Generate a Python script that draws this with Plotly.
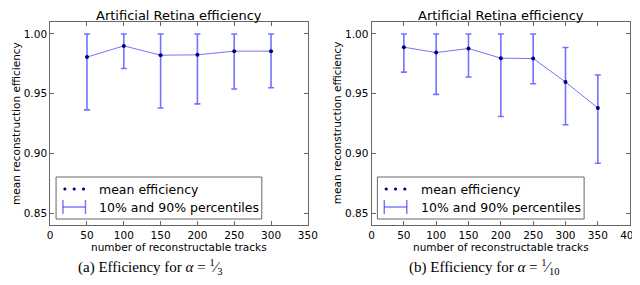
import plotly.graph_objects as go

W, H = 640, 285

# ---- data ----
x_a = [50, 100, 150, 200, 250, 300]
mean_a = [0.9806, 0.9900, 0.9822, 0.9825, 0.9856, 0.9856]
p90_a = [1.0, 1.0, 1.0, 1.0, 1.0, 1.0]
p10_a = [0.9364, 0.9711, 0.9380, 0.9414, 0.9539, 0.9550]

x_b = [50, 100, 150, 200, 250, 300, 350]
mean_b = [0.9889, 0.9844, 0.9878, 0.9797, 0.9794, 0.9597, 0.9380]
p90_b = [1.0, 1.0, 1.0, 1.0, 1.0, 0.9886, 0.9656]
p10_b = [0.9680, 0.9494, 0.9639, 0.9308, 0.9583, 0.9239, 0.8917]

title = "Artificial Retina efficiency"
xlabel = "number of reconstructable tracks"
ylabel = "mean reconstruction efficiency"
legend_labels = ["mean efficiency", "10% and 90% percentiles"]
captions = ["(a) Efficiency for <i>α</i> = <sup>1</sup>⁄<sub>3</sub>",
            "(b) Efficiency for <i>α</i> = <sup>1</sup>⁄<sub>10</sub>"]

BAR = "rgba(40,40,255,0.65)"
DOT = "#00007a"
AX = "#666"
FONT = "DejaVu Sans"


def px(x):
    return x / W


def py(y):
    return 1 - y / H


fig = go.Figure()

for i, (xs, m, hi, lo) in enumerate([(x_a, mean_a, p90_a, p10_a), (x_b, mean_b, p90_b, p10_b)]):
    xa = "x" if i == 0 else "x2"
    ya = "y" if i == 0 else "y2"
    fig.add_trace(go.Scatter(
        x=xs, y=m, xaxis=xa, yaxis=ya, mode="lines+markers",
        line=dict(color=BAR, width=1),
        marker=dict(color=DOT, size=4),
        error_y=dict(type="data", symmetric=False,
                     array=[h - v for h, v in zip(hi, m)],
                     arrayminus=[v - l for v, l in zip(m, lo)],
                     color=BAR, thickness=1.6, width=3),
        showlegend=False,
    ))

axis_common = dict(showline=True, linecolor=AX, linewidth=1, mirror="ticks",
                   ticks="inside", ticklen=4, tickcolor=AX, showgrid=False,
                   zeroline=False, tickfont=dict(family=FONT, size=10.5, color="black"))

fig.update_layout(
    width=W, height=H, margin=dict(l=0, r=0, t=0, b=0),
    paper_bgcolor="white", plot_bgcolor="white",
    xaxis=dict(domain=[px(40), px(303)], range=[0, 350], dtick=50, anchor="y", **axis_common),
    yaxis=dict(domain=[py(217), py(14)], range=[0.84, 1.01], tickvals=[0.85, 0.90, 0.95, 1.00],
               tickformat=".2f", anchor="x", **axis_common),
    xaxis2=dict(domain=[px(368), px(632)], range=[0, 400], dtick=50, anchor="y2", **axis_common),
    yaxis2=dict(domain=[py(217), py(14)], range=[0.84, 1.01], tickvals=[0.85, 0.90, 0.95, 1.00],
                tickformat=".2f", anchor="x2", **axis_common),
    showlegend=False,
)

shapes = []
annotations = []
panels = [
    dict(cx=171.5, ylab_x=5, box=(46, 256), dot0=55, txt=88, cap_x=142),
    dict(cx=500, ylab_x=333, box=(374, 585), dot0=383, txt=416, cap_x=483),
]
for i, p in enumerate(panels):
    annotations.append(dict(text=title, x=px(p["cx"]), y=py(7.5), xref="paper", yref="paper",
                            showarrow=False, xanchor="center", yanchor="middle",
                            font=dict(family=FONT, size=13, color="black")))
    annotations.append(dict(text=xlabel, x=px(p["cx"]), y=py(238.5), xref="paper", yref="paper",
                            showarrow=False, xanchor="center", yanchor="middle",
                            font=dict(family=FONT, size=10.5, color="black")))
    annotations.append(dict(text=ylabel, x=px(p["ylab_x"]), y=py(115), xref="paper", yref="paper",
                            showarrow=False, textangle=-90, xanchor="center", yanchor="middle",
                            font=dict(family=FONT, size=10.5, color="black")))
    annotations.append(dict(text=captions[i], x=px(p["cap_x"]), y=py(259), xref="paper", yref="paper",
                            showarrow=False, xanchor="center", yanchor="middle",
                            font=dict(family="Liberation Serif", size=15, color="black")))
    # legend box
    x0, x1 = p["box"]
    shapes.append(dict(type="rect", xref="paper", yref="paper", x0=px(x0), x1=px(x1),
                       y0=py(211), y1=py(169), line=dict(color=AX, width=1),
                       fillcolor="white", layer="above"))
    for k in range(3):
        cx = p["dot0"] + 9.5 * k
        shapes.append(dict(type="circle", xref="paper", yref="paper",
                           x0=px(cx - 1.6), x1=px(cx + 1.6), y0=py(182.6), y1=py(179.4),
                           fillcolor=DOT, line=dict(width=0), layer="above"))
    ex0, ex1 = p["dot0"] - 2, p["dot0"] + 21
    shapes.append(dict(type="line", xref="paper", yref="paper", x0=px(ex0), x1=px(ex1),
                       y0=py(199), y1=py(199), line=dict(color=BAR, width=1.4), layer="above"))
    for ex in (ex0, ex1):
        shapes.append(dict(type="line", xref="paper", yref="paper", x0=px(ex), x1=px(ex),
                           y0=py(192), y1=py(206), line=dict(color=BAR, width=1.4), layer="above"))
    annotations.append(dict(text=legend_labels[0], x=px(p["txt"]), y=py(181), xref="paper", yref="paper",
                            showarrow=False, xanchor="left", yanchor="middle",
                            font=dict(family=FONT, size=12.5, color="black")))
    annotations.append(dict(text=legend_labels[1], x=px(p["txt"]), y=py(199), xref="paper", yref="paper",
                            showarrow=False, xanchor="left", yanchor="middle",
                            font=dict(family=FONT, size=12.5, color="black")))

fig.update_layout(shapes=shapes, annotations=annotations)
fig.write_html("out.html")
